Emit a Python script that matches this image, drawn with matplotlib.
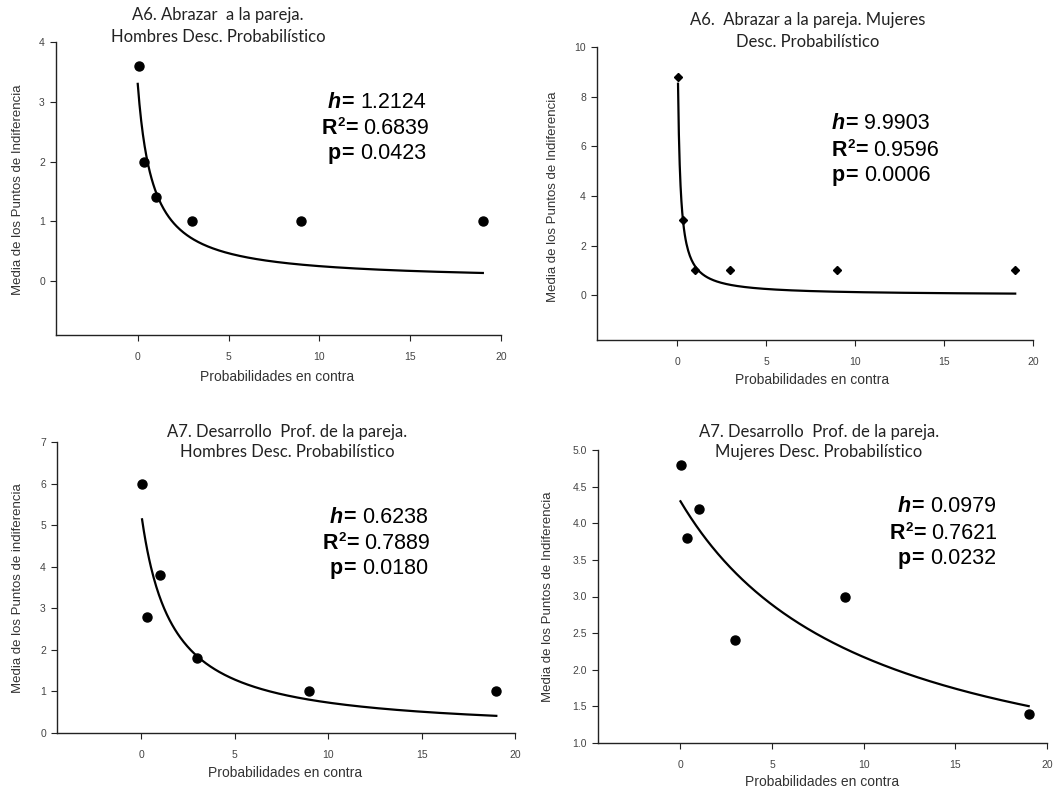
import numpy as np
import matplotlib
matplotlib.use("Agg")
import matplotlib.pyplot as plt

plt.rcParams['font.family'] = ['Liberation Sans', 'DejaVu Sans']

# ---- data ----
odds = [0.05, 0.33, 1, 3, 9, 19]

titles = [
    "A6. Abrazar  a la pareja.\nHombres Desc. Probabilístico",
    "A6.  Abrazar a la pareja. Mujeres\nDesc. Probabilístico",
    "A7. Desarrollo  Prof. de la pareja.\nHombres Desc. Probabilístico",
    "A7. Desarrollo  Prof. de la pareja.\nMujeres Desc. Probabilístico",
]
ylabels = [
    "Media de los Puntos de Indiferencia",
    "Media de los Puntos de Indiferencia",
    "Media de los Puntos de indiferencia",
    "Media de los Puntos de Indiferencia",
]
xlabel = "Probabilidades en contra"

y_a6_hombres = [3.6, 2.0, 1.4, 1.0, 1.0, 1.0]
y_a6_mujeres = [8.8, 3.05, 1.0, 1.0, 1.0, 1.0]
y_a7_hombres = [6.0, 2.8, 3.8, 1.8, 1.0, 1.0]
y_a7_mujeres = [4.8, 3.8, 4.2, 2.4, 3.0, 1.4]

h_vals = [1.2124, 9.9903, 0.6238, 0.0979]
r2_vals = ["0.6839", "0.9596", "0.7889", "0.7621"]
p_vals = ["0.0423", "0.0006", "0.0180", "0.0232"]
amp_vals = [3.3, 13.0, 5.3, 4.3]       # estimated fit amplitude A in y = A/(1+hX)
curve_start = [0.0, 0.0526, 0.05, 0.0]

y_series = [y_a6_hombres, y_a6_mujeres, y_a7_hombres, y_a7_mujeres]
ylims = [(-0.9, 4), (-1.8, 10), (0, 7), (1.0, 5.0)]
yticks = [np.arange(0, 5, 1), np.arange(0, 11, 2), np.arange(0, 8, 1), np.arange(1.0, 5.01, 0.5)]
xticks = [0, 5, 10, 15, 20]

# ---- layout (pixels) ----
W, H = 1053, 791
fig = plt.figure(figsize=(W / 100, H / 100), dpi=100)

def fx(x):
    return x / W

def fy(y):
    return 1 - y / H

axes_px = [  # L, R, T, B
    (56, 501, 42, 335),
    (597, 1033, 47, 340),
    (57, 515, 442, 733),
    (598, 1047, 450, 743),
]
title_pos = [(218, 15, 37), (808, 20, 42), (287, 432, 452), (819, 432, 452)]
ylabel_pos = [(18, 190), (553, 197), (18, 588), (548, 597)]
xlabel_pos = [(277, 377), (812, 380), (285, 773), (822, 782)]
ann_pos = [  # left x of (h, R2, p) lines, baseline y of lines
    ((328, 322, 328), (108, 134, 159)),
    ((832, 832, 832), (129, 156, 181)),
    ((330, 323, 330), (523, 549, 574)),
    ((898, 890, 898), (512, 539, 564)),
]
markers = [('o', 6.5), ('D', 4.5), ('o', 6.5), ('o', 6.5)]

FS = 15.5


def draw_line(x, y, items):
    # items: list of (text, weight, style, size, dx_pt, raise_pt)
    t0 = fig.text(fx(x), fy(y), items[0][0], ha='left', va='baseline', fontsize=items[0][3],
                  fontweight=items[0][1], fontstyle=items[0][2])
    prev = t0
    for txt, wt, st, sz, dx, rz in items[1:]:
        a = fig.axes[-1].annotate(txt, xy=(1, 0), xycoords=(prev, t0), xytext=(dx, rz),
                                  textcoords='offset points', ha='left', va='bottom',
                                  fontsize=sz, fontweight=wt, fontstyle=st,
                                  annotation_clip=False)
        prev = a
    return t0


gray = '#333333'
for i in range(4):
    L, R, T, B = axes_px[i]
    ax = fig.add_axes([fx(L), fy(B), (R - L) / W, (B - T) / H])
    ax.set_xlim(-4.5, 20)
    ax.set_ylim(*ylims[i])
    ax.set_xticks(xticks)
    ax.set_yticks(yticks[i])
    if i == 3:
        ax.set_yticklabels([f"{v:.1f}" for v in yticks[i]])
    for s in ['top', 'right']:
        ax.spines[s].set_visible(False)
    for s in ['left', 'bottom']:
        ax.spines[s].set_color('#222222')
        ax.spines[s].set_linewidth(1.0)
    ax.tick_params(axis='x', direction='out', length=4, pad=8, labelsize=7.5, labelcolor='#444444', color='#222222')
    ax.tick_params(axis='y', direction='out', length=4, pad=4, labelsize=7.5, labelcolor='#444444', color='#222222')

    m, ms = markers[i]
    ax.plot(odds, y_series[i], linestyle='none', marker=m, markersize=ms, color='black', clip_on=False)

    xc = np.linspace(curve_start[i], 19, 400)
    yc = amp_vals[i] / (1 + h_vals[i] * xc)
    ax.plot(xc, yc, color='black', linewidth=1.6)

    tx, t1, t2 = title_pos[i]
    t_lines = titles[i].split("\n")
    fig.text(fx(tx), fy(t1), t_lines[0], ha='center', va='center', fontsize=12, family='Lato', color='#222222')
    fig.text(fx(tx), fy(t2), t_lines[1], ha='center', va='center', fontsize=12, family='Lato', color='#222222')

    yx, yy = ylabel_pos[i]
    fig.text(fx(yx), fy(yy), ylabels[i], rotation=90, ha='center', va='center', fontsize=9.5, color=gray)
    xx, xy = xlabel_pos[i]
    fig.text(fx(xx), fy(xy), xlabel, ha='center', va='center', fontsize=10, color=gray)

    (lx1, lx2, lx3), (ly1, ly2, ly3) = ann_pos[i]
    draw_line(lx1, ly1, [("h", 'bold', 'italic', FS, 0, 0), ("=", 'bold', 'normal', FS, 0, 0),
                         (f"{h_vals[i]:.4f}", 'normal', 'normal', FS, 4.5, 0)])
    draw_line(lx2, ly2, [("R", 'bold', 'normal', FS, 0, 0), ("2", 'bold', 'normal', 9.5, 0, 7.5),
                         ("=", 'bold', 'normal', FS, 0, 0), (f"{r2_vals[i]}", 'normal', 'normal', FS, 4.5, 0)])
    draw_line(lx3, ly3, [("p", 'bold', 'normal', FS, 0, 0), ("=", 'bold', 'normal', FS, 0, 0),
                         (f"{p_vals[i]}", 'normal', 'normal', FS, 4.5, 0)])

fig.savefig('out.png', dpi=100)
